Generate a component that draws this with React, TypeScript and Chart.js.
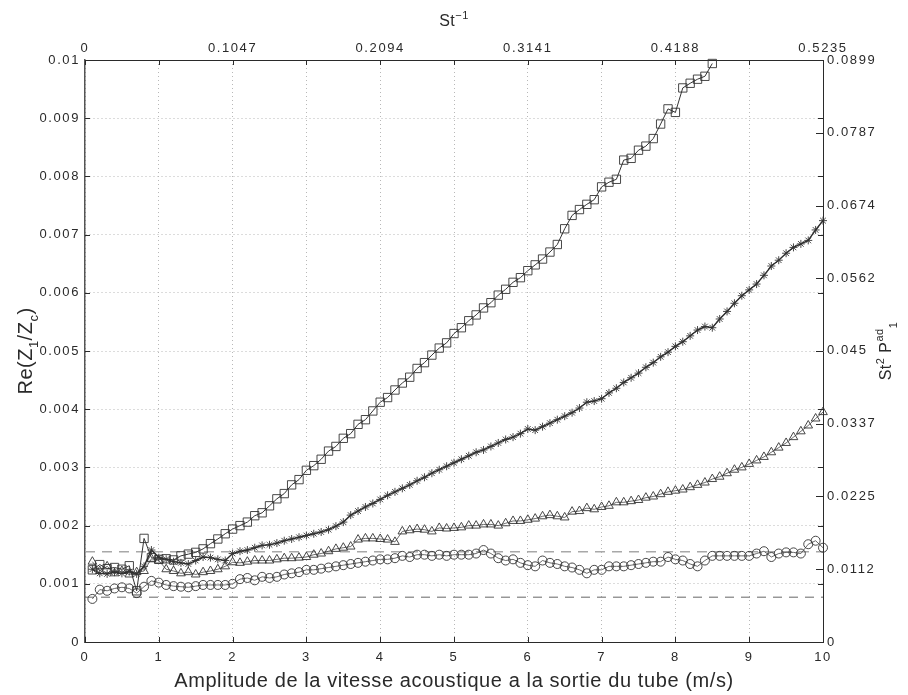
import React, { useEffect, useRef } from 'react';
import { Chart, registerables } from 'chart.js';
Chart.register(...registerables);

// Abscissa: acoustic velocity amplitude (m/s)
const X = [
  0.1, 0.2, 0.3, 0.4, 0.5, 0.6, 0.7, 0.8, 0.9, 1.0,
  1.1, 1.2, 1.3, 1.4, 1.5, 1.6, 1.7, 1.8, 1.9, 2.0,
  2.1, 2.2, 2.3, 2.4, 2.5, 2.6, 2.7, 2.8, 2.9, 3.0,
  3.1, 3.2, 3.3, 3.4, 3.5, 3.6, 3.7, 3.8, 3.9, 4.0,
  4.1, 4.2, 4.3, 4.4, 4.5, 4.6, 4.7, 4.8, 4.9, 5.0,
  5.1, 5.2, 5.3, 5.4, 5.5, 5.6, 5.7, 5.8, 5.9, 6.0,
  6.1, 6.2, 6.3, 6.4, 6.5, 6.6, 6.7, 6.8, 6.9, 7.0,
  7.1, 7.2, 7.3, 7.4, 7.5, 7.6, 7.7, 7.8, 7.9, 8.0,
  8.1, 8.2, 8.3, 8.4, 8.5, 8.6, 8.7, 8.8, 8.9, 9.0,
  9.1, 9.2, 9.3, 9.4, 9.5, 9.6, 9.7, 9.8, 9.9, 10.0,
];

const SQUARES = [
  0.00124, 0.00133, 0.00126, 0.00128, 0.00125, 0.00131, 0.00088, 0.00178, 0.00145, 0.00142,
  0.00143, 0.00141, 0.00148, 0.00151, 0.00154, 0.00160, 0.00169, 0.00177, 0.00186, 0.00194,
  0.00200, 0.00206, 0.00217, 0.00222, 0.00234, 0.00246, 0.00255, 0.00270, 0.00279, 0.00295,
  0.00303, 0.00314, 0.00328, 0.00336, 0.00350, 0.00358, 0.00374, 0.00382, 0.00397, 0.00412,
  0.00420, 0.00433, 0.00445, 0.00455, 0.00470, 0.00480, 0.00493, 0.00505, 0.00514, 0.00530,
  0.00540, 0.00552, 0.00562, 0.00574, 0.00583, 0.00596, 0.00606, 0.00618, 0.00626, 0.00638,
  0.00648, 0.00658, 0.00670, 0.00683, 0.00710, 0.00733, 0.00743, 0.00752, 0.00760, 0.00782,
  0.00790, 0.00795, 0.00828, 0.00831, 0.00845, 0.00852, 0.00865, 0.00890, 0.00916, 0.00910,
  0.00952, 0.00960, 0.00967, 0.00972, 0.00994,
];

const STARS = [
  0.00125, 0.00118, 0.00117, 0.00120, 0.00118, 0.00121, 0.00117, 0.00130, 0.00158, 0.00145,
  0.00142, 0.00138, 0.00136, 0.00134, 0.00140, 0.00146, 0.00145, 0.00142, 0.00140, 0.00152,
  0.00156, 0.00158, 0.00162, 0.00166, 0.00167, 0.00170, 0.00174, 0.00177, 0.00180, 0.00183,
  0.00186, 0.00189, 0.00193, 0.00199, 0.00206, 0.00218, 0.00225, 0.00232, 0.00238, 0.00245,
  0.00252, 0.00258, 0.00264, 0.00270, 0.00277, 0.00283, 0.00290, 0.00296, 0.00302, 0.00308,
  0.00314, 0.00320, 0.00326, 0.00330, 0.00336, 0.00342, 0.00348, 0.00352, 0.00358, 0.00366,
  0.00364, 0.00370, 0.00376, 0.00382, 0.00388, 0.00394, 0.00402, 0.00412, 0.00414, 0.00418,
  0.00428, 0.00436, 0.00446, 0.00454, 0.00462, 0.00472, 0.00480, 0.00490, 0.00498, 0.00508,
  0.00516, 0.00526, 0.00536, 0.00542, 0.00540, 0.00555, 0.00568, 0.00582, 0.00595, 0.00605,
  0.00615, 0.00630, 0.00646, 0.00656, 0.00668, 0.00678, 0.00684, 0.00690, 0.00708, 0.00724,
];

const TRIANGLES = [
  0.00138, 0.00122, 0.00130, 0.00118, 0.00122, 0.00116, 0.00120, 0.00122, 0.00143, 0.00140,
  0.00125, 0.00122, 0.00118, 0.00120, 0.00116, 0.00120, 0.00122, 0.00125, 0.00130, 0.00137,
  0.00136, 0.00138, 0.00140, 0.00140, 0.00140, 0.00142, 0.00144, 0.00144, 0.00145, 0.00146,
  0.00150, 0.00152, 0.00156, 0.00160, 0.00162, 0.00164, 0.00176, 0.00178, 0.00178, 0.00177,
  0.00176, 0.00172, 0.00190, 0.00192, 0.00194, 0.00193, 0.00190, 0.00196, 0.00195, 0.00196,
  0.00197, 0.00200, 0.00200, 0.00202, 0.00202, 0.00200, 0.00204, 0.00208, 0.00208, 0.00210,
  0.00212, 0.00216, 0.00218, 0.00216, 0.00214, 0.00224, 0.00225, 0.00230, 0.00228, 0.00232,
  0.00234, 0.00240, 0.00240, 0.00242, 0.00244, 0.00248, 0.00250, 0.00254, 0.00258, 0.00260,
  0.00262, 0.00266, 0.00270, 0.00274, 0.00280, 0.00284, 0.00290, 0.00296, 0.00300, 0.00306,
  0.00312, 0.00318, 0.00326, 0.00334, 0.00342, 0.00352, 0.00362, 0.00372, 0.00384, 0.00395,
];

const CIRCLES = [
  0.00074, 0.00090, 0.00088, 0.00092, 0.00094, 0.00092, 0.00084, 0.00095, 0.00105, 0.00102,
  0.00098, 0.00096, 0.00095, 0.00094, 0.00096, 0.00098, 0.00098, 0.00098, 0.00098, 0.00100,
  0.00108, 0.00110, 0.00106, 0.00112, 0.00110, 0.00112, 0.00116, 0.00118, 0.00120, 0.00124,
  0.00124, 0.00126, 0.00128, 0.00130, 0.00132, 0.00134, 0.00136, 0.00138, 0.00140, 0.00142,
  0.00142, 0.00144, 0.00148, 0.00146, 0.00150, 0.00150, 0.00148, 0.00150, 0.00148, 0.00150,
  0.00150, 0.00150, 0.00152, 0.00158, 0.00152, 0.00144, 0.00140, 0.00142, 0.00136, 0.00132,
  0.00130, 0.00140, 0.00136, 0.00134, 0.00130, 0.00128, 0.00124, 0.00118, 0.00124, 0.00124,
  0.00130, 0.00130, 0.00130, 0.00132, 0.00134, 0.00136, 0.00138, 0.00138, 0.00146, 0.00142,
  0.00140, 0.00134, 0.00130, 0.00140, 0.00148, 0.00148, 0.00148, 0.00148, 0.00148, 0.00148,
  0.00152, 0.00156, 0.00146, 0.00152, 0.00154, 0.00154, 0.00152, 0.00168, 0.00174, 0.00162,
];

// Horizontal reference levels
const UPPER_LEVEL = 0.00155;
const LOWER_LEVEL = 0.00077;
const X_RANGE = [0, 10];

// Tick labels
const BOTTOM_TICKS = ['0', '1', '2', '3', '4', '5', '6', '7', '8', '9', '10'];
const LEFT_TICKS = ['0', '0.001', '0.002', '0.003', '0.004', '0.005', '0.006', '0.007', '0.008', '0.009', '0.01'];
const TOP_TICK_POS = [0, 2, 4, 6, 8, 10];
const TOP_TICKS = ['0', '0.1047', '0.2094', '0.3141', '0.4188', '0.5235'];
const RIGHT_TICKS = ['0', '0.0112', '0.0225', '0.0337', '0.045', '0.0562', '0.0674', '0.0787', '0.0899'];
const RIGHT_MAX = 0.0899;

const FONT = '"Liberation Sans", Arial, Helvetica, sans-serif';
const INK = '#2a2a2a';

type Part = { text: string; size: number; dy: number };

function drawRich(ctx: CanvasRenderingContext2D, parts: Part[], tx: number, ty: number, rot: number, spacing: string) {
  ctx.save();
  ctx.translate(tx, ty);
  ctx.rotate(rot);
  (ctx as any).letterSpacing = spacing;
  ctx.textAlign = 'left';
  ctx.textBaseline = 'alphabetic';
  ctx.fillStyle = INK;
  const widths = parts.map((p) => {
    ctx.font = `${p.size}px ${FONT}`;
    return ctx.measureText(p.text).width;
  });
  const total = widths.reduce((a, b) => a + b, 0);
  let x = -total / 2;
  parts.forEach((p, i) => {
    ctx.font = `${p.size}px ${FONT}`;
    ctx.fillText(p.text, x, p.dy);
    x += widths[i];
  });
  ctx.restore();
}

export default function App() {
  const ref = useRef<HTMLCanvasElement>(null);

  useEffect(() => {
    const canvas = ref.current;
    if (!canvas) return;
    const pts = (ys: number[]) => ys.map((y, i) => ({ x: X[i], y }));
    const level = (v: number) => X_RANGE.map((x) => ({ x, y: v }));

    const decor = {
      id: 'decor',
      beforeDraw(chart: any) {
        chart.ctx.letterSpacing = '1.6px';
      },
      afterDraw(chart: any) {
        const ctx: CanvasRenderingContext2D = chart.ctx;
        const { left, right, top, bottom } = chart.chartArea;
        const xs = chart.scales.x;
        const ys = chart.scales.y;
        const y2 = chart.scales.y2;
        ctx.save();
        ctx.strokeStyle = INK;
        ctx.lineWidth = 1;
        ctx.beginPath();
        BOTTOM_TICKS.forEach((t) => {
          const px = Math.round(xs.getPixelForValue(parseFloat(t))) + 0.5;
          ctx.moveTo(px, bottom);
          ctx.lineTo(px, bottom - 5);
          ctx.moveTo(px, top);
          ctx.lineTo(px, top + 5);
        });
        LEFT_TICKS.forEach((t) => {
          const py = Math.round(ys.getPixelForValue(parseFloat(t))) + 0.5;
          ctx.moveTo(left, py);
          ctx.lineTo(left + 5, py);
          ctx.moveTo(right, py);
          ctx.lineTo(right - 5, py);
        });
        RIGHT_TICKS.forEach((t) => {
          const py = Math.round(y2.getPixelForValue(parseFloat(t))) + 0.5;
          ctx.moveTo(right, py);
          ctx.lineTo(right - 7, py);
        });
        ctx.stroke();
        ctx.restore();

        const midX = (left + right) / 2;
        const midY = (top + bottom) / 2;
        drawRich(ctx, [{ text: 'Amplitude de la vitesse acoustique a la sortie du tube (m/s)', size: 20, dy: 0 }], midX, 687, 0, '0.6px');
        drawRich(ctx, [
          { text: 'St', size: 16, dy: 0 },
          { text: '−1', size: 11, dy: -7 },
        ], midX, 26, 0, '0.5px');
        drawRich(ctx, [
          { text: 'Re(Z', size: 20, dy: 0 },
          { text: '1', size: 13, dy: 6 },
          { text: '/Z', size: 20, dy: 0 },
          { text: 'c', size: 13, dy: 6 },
          { text: ')', size: 20, dy: 0 },
        ], 32, midY, -Math.PI / 2, '0.5px');
        drawRich(ctx, [
          { text: 'St', size: 16, dy: 0 },
          { text: '2', size: 11, dy: -7 },
          { text: ' P', size: 16, dy: 0 },
          { text: 'ad', size: 11, dy: -8 },
          { text: '1', size: 11, dy: 6 },
        ], 891, midY, -Math.PI / 2, '0.5px');
      },
    };

    const tickFont = { family: FONT, size: 13 };

    const chart = new Chart(canvas, {
      type: 'line',
      data: {
        datasets: [
          {
            label: 'squares',
            data: pts(SQUARES),
            borderColor: '#333',
            borderWidth: 1,
            pointStyle: 'rect',
            pointRadius: 5.9,
            pointBorderWidth: 0.9,
            pointBorderColor: '#333',
            pointBackgroundColor: 'rgba(0,0,0,0)',
            tension: 0,
            clip: 8,
          },
          {
            label: 'stars',
            data: pts(STARS),
            borderColor: '#2a2a2a',
            borderWidth: 1.4,
            pointStyle: 'star',
            pointRadius: 4,
            pointBorderWidth: 0.9,
            pointBorderColor: '#333',
            pointBackgroundColor: 'rgba(0,0,0,0)',
            tension: 0,
            clip: 8,
          },
          {
            label: 'triangles',
            data: pts(TRIANGLES),
            borderColor: '#444',
            borderWidth: 0.8,
            pointStyle: 'triangle',
            pointRadius: 5,
            pointBorderWidth: 0.9,
            pointBorderColor: '#333',
            pointBackgroundColor: 'rgba(0,0,0,0)',
            tension: 0,
            clip: 8,
          },
          {
            label: 'circles',
            data: pts(CIRCLES),
            borderColor: '#444',
            borderWidth: 0.8,
            pointStyle: 'circle',
            pointRadius: 4.5,
            pointBorderWidth: 0.9,
            pointBorderColor: '#333',
            pointBackgroundColor: 'rgba(0,0,0,0)',
            tension: 0,
            clip: 8,
          },
          {
            label: 'upper',
            data: level(UPPER_LEVEL),
            borderColor: '#a8a8a8',
            borderWidth: 1.6,
            borderDash: [10, 7],
            pointRadius: 0,
          },
          {
            label: 'lower',
            data: level(LOWER_LEVEL),
            borderColor: '#666',
            borderWidth: 1,
            borderDash: [9, 7],
            pointRadius: 0,
          },
        ],
      },
      options: {
        responsive: false,
        devicePixelRatio: 1,
        animation: false,
        layout: { padding: 0 },
        plugins: { legend: { display: false }, tooltip: { enabled: false } },
        scales: {
          x: {
            type: 'linear',
            position: 'bottom',
            min: 0,
            max: 10,
            afterBuildTicks: (s: any) => { s.ticks = BOTTOM_TICKS.map((t) => ({ value: parseFloat(t) })); },
            afterFit: (s: any) => { s.height = 53; },
            ticks: {
              autoSkip: false,
              maxRotation: 0,
              padding: 8,
              color: INK,
              font: tickFont,
              callback: (_v: any, i: number) => BOTTOM_TICKS[i],
            },
            grid: { color: '#b8b8b8', lineWidth: 1, drawTicks: false },
            border: { display: true, color: INK, width: 1, dash: [1, 3] },
          },
          x2: {
            type: 'linear',
            position: 'top',
            min: 0,
            max: 10,
            afterBuildTicks: (s: any) => { s.ticks = TOP_TICK_POS.map((v) => ({ value: v })); },
            afterFit: (s: any) => { s.height = 60; },
            ticks: {
              autoSkip: false,
              maxRotation: 0,
              padding: 4,
              color: INK,
              font: tickFont,
              callback: (_v: any, i: number) => TOP_TICKS[i],
            },
            grid: { display: false, drawTicks: false },
            border: { display: true, color: INK, width: 1 },
          },
          y: {
            type: 'linear',
            position: 'left',
            min: 0,
            max: 0.01,
            afterBuildTicks: (s: any) => { s.ticks = LEFT_TICKS.map((t) => ({ value: parseFloat(t) })); },
            afterFit: (s: any) => { s.width = 85; },
            ticks: {
              autoSkip: false,
              padding: 5,
              color: INK,
              font: tickFont,
              callback: (_v: any, i: number) => LEFT_TICKS[i],
            },
            grid: { color: '#b8b8b8', lineWidth: 1, drawTicks: false },
            border: { display: true, color: '#555', width: 1.5, dash: [1, 3] },
          },
          y2: {
            type: 'linear',
            position: 'right',
            min: 0,
            max: RIGHT_MAX,
            afterBuildTicks: (s: any) => { s.ticks = RIGHT_TICKS.map((t) => ({ value: parseFloat(t) })); },
            afterFit: (s: any) => { s.width = 85; },
            ticks: {
              autoSkip: false,
              padding: 4,
              color: INK,
              font: tickFont,
              callback: (_v: any, i: number) => RIGHT_TICKS[i],
            },
            grid: { display: false, drawTicks: false },
            border: { display: true, color: INK, width: 1 },
          },
        },
      },
      plugins: [decor],
    } as any);

    return () => chart.destroy();
  }, []);

  return (
    <div style={{ position: 'absolute', left: 0, top: 0, width: 908, height: 695, background: '#fff' }}>
      <canvas ref={ref} width={908} height={695} style={{ display: 'block' }} />
    </div>
  );
}
